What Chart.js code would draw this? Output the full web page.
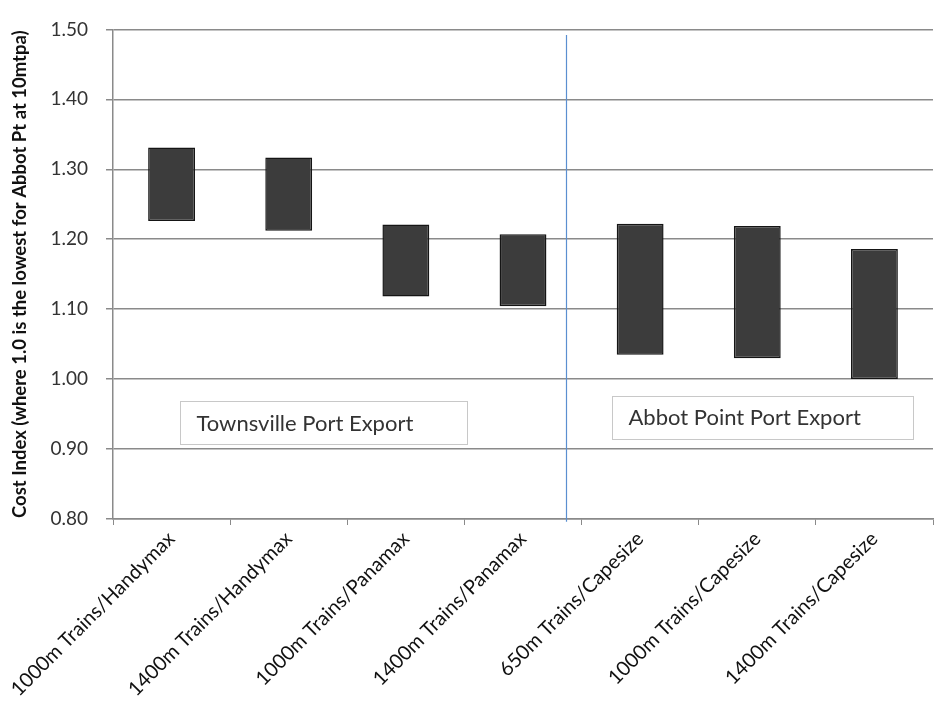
<!DOCTYPE html>
<html>
<head>
<meta charset="utf-8">
<script src="https://cdn.jsdelivr.net/npm/chart.js@4.4.0/dist/chart.umd.min.js"></script>
<style>
  html, body { margin: 0; padding: 0; background: #fff; }
  #wrap { width: 940px; height: 705px; }
</style>
</head>
<body>
<div id="wrap"><canvas id="myChart" width="940" height="705"></canvas></div>
<script>
// categories (x axis)
const categories = [
    '1000m Trains/Handymax',
    '1400m Trains/Handymax',
    '1000m Trains/Panamax',
    '1400m Trains/Panamax',
    '650m Trains/Capesize',
    '1000m Trains/Capesize',
    '1400m Trains/Capesize'
];

// bar bottoms and tops (cost index)
const lowValues  = [1.226, 1.212, 1.118, 1.104, 1.035, 1.030, 1.000];
const highValues = [1.331, 1.317, 1.221, 1.207, 1.222, 1.219, 1.186];

// y axis ticks
const yTicks = [0.80, 0.90, 1.00, 1.10, 1.20, 1.30, 1.40, 1.50];

// annotation labels
const groupLabels = ['Townsville Port Export', 'Abbot Point Port Export'];

const axisFont = 'Lato, "Open Sans", "Liberation Sans", sans-serif';

// 막대 데이터 만들기 (floating bars)
const barData = categories.map((c, i) => [lowValues[i], highValues[i]]);

// 구분선과 라벨 박스 그리기
const extrasPlugin = {
    id: 'extras',
    afterDatasetsDraw(chart) {
        const ctx = chart.ctx;
        const x = chart.scales.x;
        const y = chart.scales.y;
        const step = x.getPixelForValue(1) - x.getPixelForValue(0);

        // vertical blue divider
        const lx = Math.round(x.getPixelForValue(3) + step * 0.37) + 0.5;
        ctx.save();
        ctx.strokeStyle = '#5b8fd0';
        ctx.lineWidth = 1.2;
        ctx.beginPath();
        ctx.moveTo(lx, y.getPixelForValue(1.492));
        ctx.lineTo(lx, y.getPixelForValue(0.796));
        ctx.stroke();

        // label boxes
        const boxes = [
            { text: groupLabels[0], x0: x.getPixelForValue(0) + step * 0.07, x1: x.getPixelForValue(2) + step * 0.52, top: 0.968, bottom: 0.907 },
            { text: groupLabels[1], x0: x.getPixelForValue(4) - step * 0.24, x1: x.getPixelForValue(6) + step * 0.33, top: 0.976, bottom: 0.915 }
        ];
        boxes.forEach(b => {
            const t = y.getPixelForValue(b.top);
            const bt = y.getPixelForValue(b.bottom);
            const bx0 = Math.round(b.x0) + 0.5;
            const bx1 = Math.round(b.x1) + 0.5;
            ctx.fillStyle = '#ffffff';
            ctx.fillRect(bx0, t, bx1 - bx0, bt - t);
            ctx.strokeStyle = '#c8c8c8';
            ctx.lineWidth = 1;
            ctx.strokeRect(bx0, Math.round(t) + 0.5, bx1 - bx0, Math.round(bt - t));
            ctx.fillStyle = '#333333';
            ctx.font = '22px ' + axisFont;
            ctx.textBaseline = 'middle';
            ctx.textAlign = 'left';
            ctx.fillText(b.text, bx0 + 16, (t + bt) / 2 + 1);
        });
        ctx.restore();
    }
};

const ctx = document.getElementById('myChart').getContext('2d');

const myChart = new Chart(ctx, {
    type: 'bar',
    data: {
        labels: categories,
        datasets: [{
            label: 'Cost Index',
            data: barData,
            backgroundColor: '#3c3c3c',
            borderColor: '#151515',
            borderWidth: 1.5,
            borderSkipped: false,
            barPercentage: 0.5,
            categoryPercentage: 0.8
        }]
    },
    options: {
        responsive: false,
        animation: false,
        layout: { padding: { left: 0, right: 7, top: 27, bottom: 0 } },
        plugins: {
            legend: { display: false },
            tooltip: { enabled: false }
        },
        scales: {
            x: {
                offset: true,
                grid: {
                    display: true,
                    offset: true,
                    drawOnChartArea: false,
                    tickLength: 6,
                    color: '#8a8a8a'
                },
                border: { color: '#8a8a8a', width: 1.5 },
                ticks: {
                    minRotation: 45,
                    maxRotation: 45,
                    color: '#111111',
                    padding: 2,
                    font: { family: axisFont, size: 20 }
                },
                afterFit(scale) { scale.height = 186; }
            },
            y: {
                min: 0.8,
                max: 1.5,
                afterBuildTicks(scale) {
                    scale.ticks = yTicks.map(v => ({ value: v }));
                },
                grid: {
                    color: '#8a8a8a',
                    lineWidth: 1.5,
                    tickLength: 7
                },
                border: { color: '#8a8a8a', width: 1.5 },
                ticks: {
                    color: '#333333',
                    padding: 18,
                    font: { family: axisFont, size: 19 },
                    callback: v => Number(v).toFixed(2)
                },
                title: {
                    display: true,
                    text: 'Cost Index (where 1.0 is the lowest for Abbot Pt at 10mtpa)',
                    color: '#111111',
                    padding: { top: 9, bottom: 0 },
                    font: { family: axisFont, size: 18.5, weight: 'bold' }
                },
                afterFit(scale) { scale.width = 113; }
            }
        }
    },
    plugins: [extrasPlugin]
});
</script>
</body>
</html>
